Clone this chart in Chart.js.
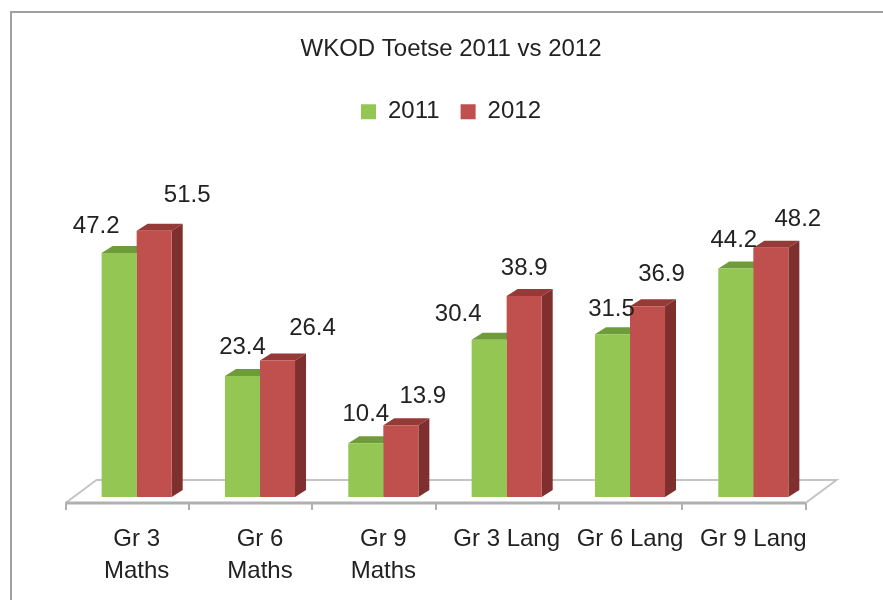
<!DOCTYPE html>
<html>
<head>
<meta charset="utf-8">
<script src="https://cdn.jsdelivr.net/npm/chart.js"></script>
<style>
  html, body { margin: 0; padding: 0; background: #fff; }
  canvas { display: block; }
</style>
</head>
<body>
<canvas id="grafico" width="883" height="600"></canvas>
<script>
// data
var categorias = [['Gr 3', 'Maths'], ['Gr 6', 'Maths'], ['Gr 9', 'Maths'], 'Gr 3 Lang', 'Gr 6 Lang', 'Gr 9 Lang'];
var valores2011 = [47.2, 23.4, 10.4, 30.4, 31.5, 44.2];
var valores2012 = [51.5, 26.4, 13.9, 38.9, 36.9, 48.2];

// where each value label sits, relative to the top of its bar (px)
var desvioRotulo2011 = [[-23, -27], [0, -29], [0, -29], [-31, -25], [-1, -25], [-2, -28]];
var desvioRotulo2012 = [[33, -35], [35, -32], [22, -29], [0, -28], [14, -32], [27, -28]];

var fonte = "'Liberation Sans', Arial, sans-serif";
var corTexto = '#222222';
var pxPorUnidade = 5.17;

// lateral e topo de cada barra (efeito 3D)
var faces = {
    verde: { topo: '#6f9c3b', lado: '#5d8231' },
    vermelho: { topo: '#963a37', lado: '#7f2f2d' }
};
var profX = 11, profY = 7;

var pluginMoldura = {
    id: 'moldura',
    beforeDraw: function (chart) {
        var ctx = chart.ctx;
        var area = chart.chartArea;
        ctx.save();
        // borda cinza do quadro
        ctx.strokeStyle = '#a0a0a0';
        ctx.lineWidth = 2;
        ctx.beginPath();
        ctx.moveTo(11, 600);
        ctx.lineTo(11, 12);
        ctx.lineTo(883, 12);
        ctx.stroke();

        // piso em perspectiva
        var x0 = area.left - 9.5, x1 = area.right - 9.5, yF = area.bottom + 6;
        var dx = 31, dy = 23;
        ctx.strokeStyle = '#c4c4c4';
        ctx.lineWidth = 2;
        ctx.beginPath();
        ctx.moveTo(x0, yF);
        ctx.lineTo(x0 + dx, yF - dy);
        ctx.lineTo(x1 + dx, yF - dy);
        ctx.lineTo(x1, yF);
        ctx.stroke();
        ctx.strokeStyle = '#b0b0b0';
        ctx.lineWidth = 3;
        ctx.beginPath();
        ctx.moveTo(x0, yF);
        ctx.lineTo(x1, yF);
        ctx.stroke();
        ctx.lineWidth = 2;
        var passo = (x1 - x0) / categorias.length;
        for (var i = 0; i <= categorias.length; i++) {
            var xt = Math.round(x0 + i * passo);
            ctx.beginPath();
            ctx.moveTo(xt, yF);
            ctx.lineTo(xt, yF + 7);
            ctx.stroke();
        }
        ctx.restore();
    },
    beforeDatasetsDraw: function (chart) {
        var ctx = chart.ctx;
        ctx.save();
        chart.data.datasets.forEach(function (ds, d) {
            var cores = d == 0 ? faces.verde : faces.vermelho;
            chart.getDatasetMeta(d).data.forEach(function (bar) {
                var esq = bar.x - bar.width / 2;
                var dir = bar.x + bar.width / 2;
                // topo
                ctx.fillStyle = cores.topo;
                ctx.beginPath();
                ctx.moveTo(esq, bar.y);
                ctx.lineTo(dir, bar.y);
                ctx.lineTo(dir + profX, bar.y - profY);
                ctx.lineTo(esq + profX, bar.y - profY);
                ctx.closePath();
                ctx.fill();
                // lateral
                ctx.fillStyle = cores.lado;
                ctx.beginPath();
                ctx.moveTo(dir, bar.y);
                ctx.lineTo(dir + profX, bar.y - profY);
                ctx.lineTo(dir + profX, bar.base - profY);
                ctx.lineTo(dir, bar.base);
                ctx.closePath();
                ctx.fill();
            });
        });
        ctx.restore();
    },
    afterDatasetsDraw: function (chart) {
        var ctx = chart.ctx;
        ctx.save();
        ctx.font = '24px ' + fonte;
        ctx.fillStyle = corTexto;
        ctx.textAlign = 'center';
        ctx.textBaseline = 'middle';
        chart.data.datasets.forEach(function (ds, d) {
            var desvios = d == 0 ? desvioRotulo2011 : desvioRotulo2012;
            chart.getDatasetMeta(d).data.forEach(function (bar, i) {
                ctx.fillText(ds.data[i].toFixed(1), bar.x + desvios[i][0], bar.y + desvios[i][1]);
            });
        });
        ctx.restore();
    }
};

var eixoVazio = function (largura, lado) {
    return {
        position: lado,
        display: true,
        grid: { display: false, drawTicks: false },
        border: { display: false },
        ticks: { display: false },
        afterFit: function (scale) {
            scale.width = largura;
        }
    };
};

var yEsq = eixoVazio(56, 'left');
yEsq.min = 0;
yEsq.max = 70;

var ctx = document.getElementById('grafico');
var grafico = new Chart(ctx, {
    type: 'bar',
    data: {
        labels: categorias,
        datasets: [{
            label: '2011',
            data: valores2011,
            backgroundColor: '#93c653',
            borderWidth: 0
        }, {
            label: '2012',
            data: valores2012,
            backgroundColor: '#c0504d',
            borderWidth: 0
        }]
    },
    options: {
        responsive: false,
        animation: false,
        categoryPercentage: 0.568,
        barPercentage: 1,
        layout: {
            padding: { left: 19, right: 0, top: 0, bottom: 0 }
        },
        plugins: {
            title: {
                display: true,
                text: 'WKOD Toetse 2011 vs 2012',
                color: corTexto,
                font: { family: fonte, size: 24, weight: 'normal', lineHeight: 1.2 },
                padding: { top: 35, bottom: 15 }
            },
            legend: {
                display: true,
                labels: {
                    color: corTexto,
                    font: { family: fonte, size: 24 },
                    boxWidth: 15,
                    boxHeight: 15,
                    padding: 21
                }
            },
            tooltip: { enabled: false }
        },
        scales: {
            x: {
                grid: { display: false, drawTicks: false },
                border: { display: false },
                ticks: {
                    color: corTexto,
                    font: { family: fonte, size: 24, lineHeight: 1.33 },
                    padding: 26,
                    maxRotation: 0
                },
                afterFit: function (scale) {
                    scale.height = 103;
                }
            },
            y: yEsq,
            yDir: eixoVazio(68, 'right')
        }
    },
    plugins: [pluginMoldura]
});

// ajusta o topo da escala para manter a mesma altura por unidade da referência
var area = grafico.chartArea;
grafico.options.scales.y.max = (area.bottom - area.top) / pxPorUnidade;
grafico.update();
</script>
</body>
</html>
